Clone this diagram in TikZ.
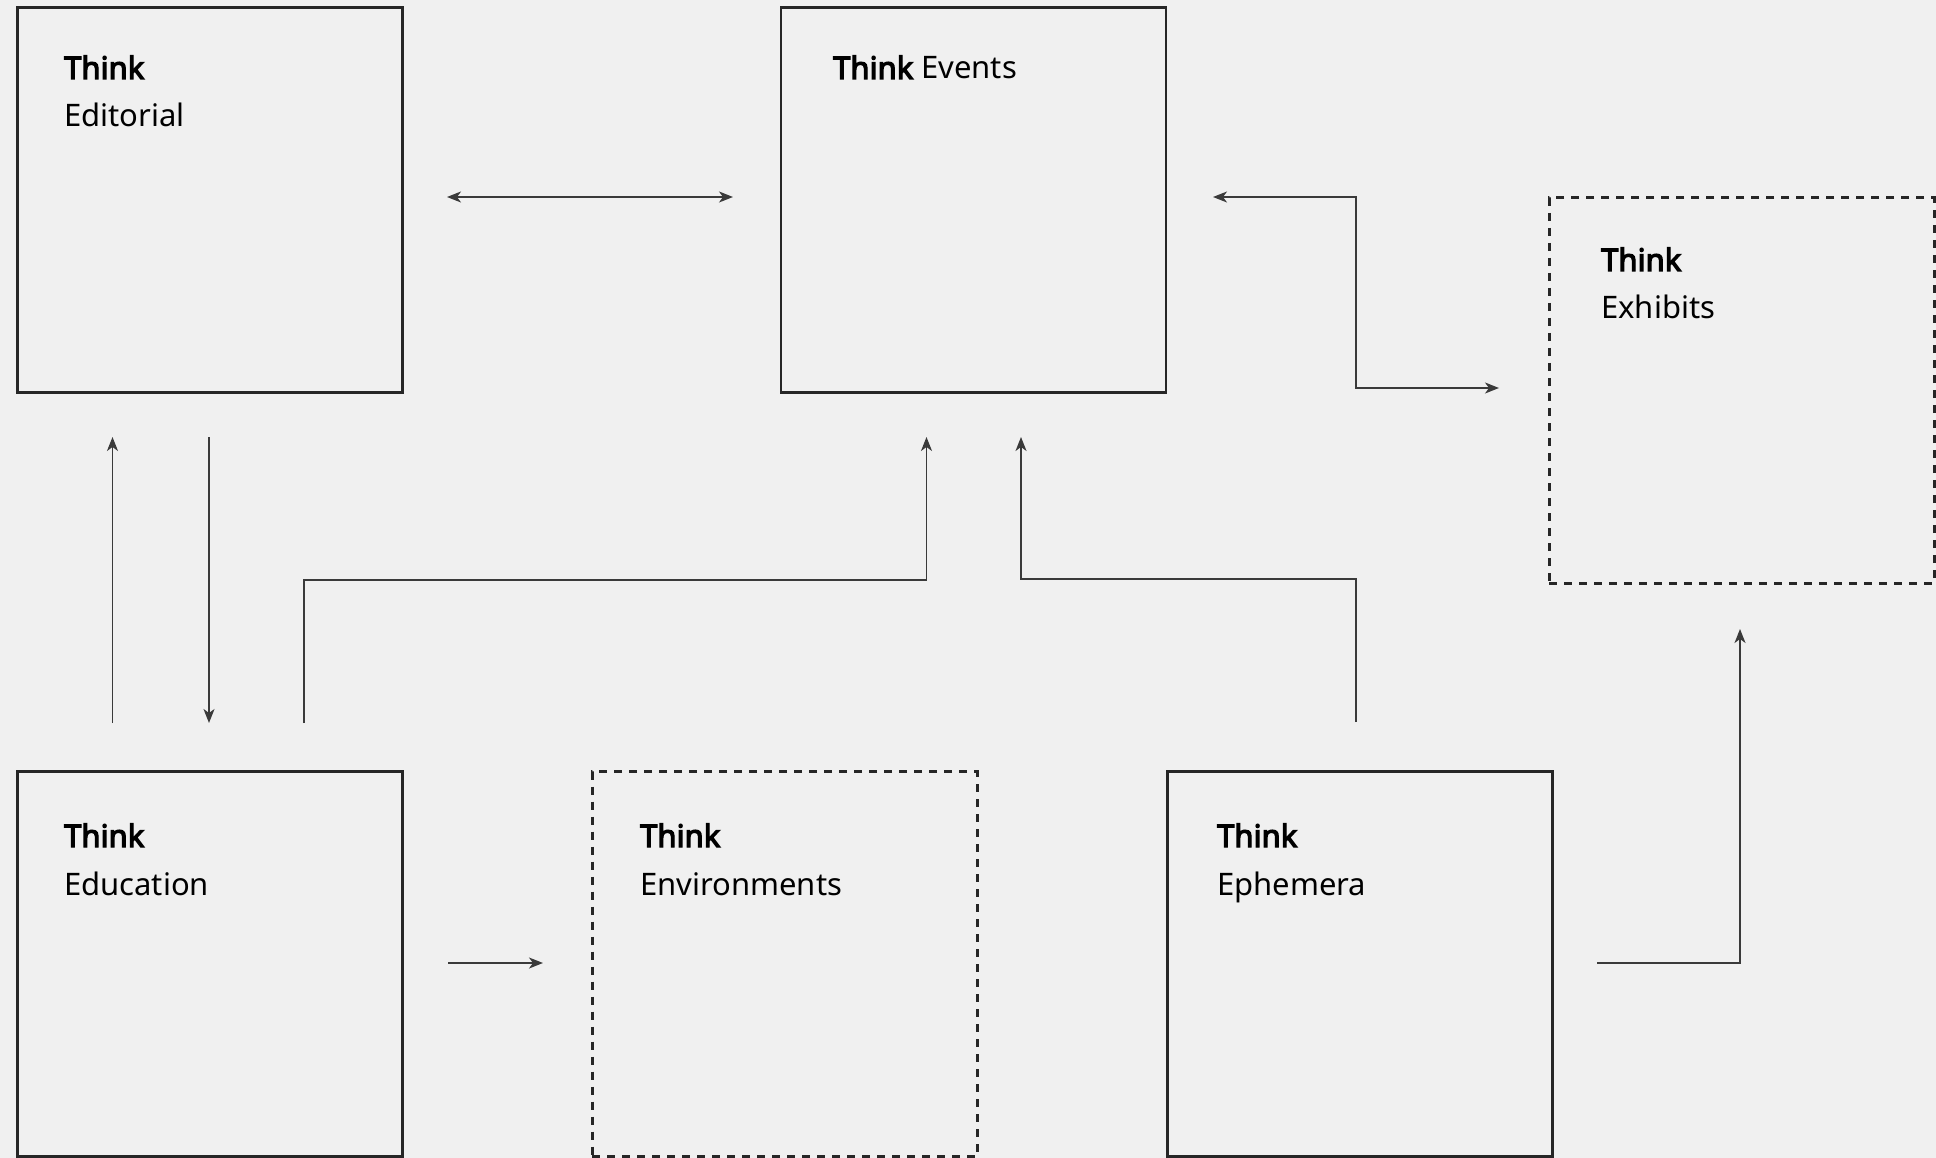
\documentclass[tikz,border=0pt]{standalone}
\usepackage{fontspec}
\setmainfont{Noto Sans}[BoldFont={Noto Sans},BoldFeatures={FakeBold=4}]
\usetikzlibrary{arrows.meta}
\definecolor{bg}{HTML}{F0F0F0}
\definecolor{ink}{HTML}{262626}
\definecolor{wire}{HTML}{3A3A3A}
\begin{document}
\begin{tikzpicture}[x=1pt,y=-1pt,
  >={Stealth[length=14pt,width=11pt,inset=4pt]},
  box/.style={draw=ink,line width=2.5pt,minimum width=385pt,minimum height=385pt,inner sep=0pt},
  dbox/.style={box,line width=3pt,dash pattern=on 8pt off 7pt},
  lbl/.style={anchor=base west,inner sep=0pt,font=\fontsize{31}{37}\selectfont,text=black},
  conn/.style={draw=wire,line width=1.5pt},
]
\fill[bg] (0,0) rectangle (1936,1158);
\useasboundingbox (0,0) rectangle (1936,1158);

% boxes
\node[box]  (ed)  at (210,200)    {};
\node[box]  (ev)  at (973.5,200)  {};
\node[dbox] (ex)  at (1741.5,390.5) {};
\node[box]  (edu) at (210,964)    {};
\node[dbox] (env) at (784.5,964)  {};
\node[box]  (eph) at (1360,964)   {};

% labels
\node[lbl] (edT)  at (64,79)   {\textbf{Think}};
\node[lbl] (edS)  at (64,127)  {Editorial};
\node[lbl] (evT)  at (833,79)  {\textbf{Think} Events};
\node[lbl] (exT)  at (1601,271) {\textbf{Think}};
\node[lbl] (exS)  at (1601,319) {Exhibits};
\node[lbl] (eduT) at (64,847)  {\textbf{Think}};
\node[lbl] (eduS) at (64,895)  {Education};
\node[lbl] (envT) at (640,847) {\textbf{Think}};
\node[lbl] (envS) at (640,895) {Environments};
\node[lbl] (ephT) at (1217,847) {\textbf{Think}};
\node[lbl] (ephS) at (1217,895) {Ephemera};

% connector end points
\coordinate (c1a) at (447,197);
\coordinate (c1b) at (733,197);
\coordinate (c2a) at (1213,197);
\coordinate (c2b) at (1499,388);
\coordinate (c3a) at (112.5,723);
\coordinate (c3b) at (112.5,437);
\coordinate (c4a) at (209,437);
\coordinate (c4b) at (209,723);
\coordinate (c5a) at (304,723);
\coordinate (c5b) at (926.5,437);
\coordinate (c6a) at (1356,722);
\coordinate (c6b) at (1021,437);
\coordinate (c7a) at (448,963);
\coordinate (c7b) at (543,963);
\coordinate (c8a) at (1597,963);
\coordinate (c8b) at (1740,629);

% connectors
\draw[conn,<->] (c1a) -- (c1b);
\draw[conn,<->] (c2a) -- (1356,197) -- (1356,388) -- (c2b);
\draw[conn,->] (c3a) -- (c3b);
\draw[conn,->] (c4a) -- (c4b);
\draw[conn,->] (c5a) -- (304,580) -- (926.5,580) -- (c5b);
\draw[conn,->] (c6a) -- (1356,579) -- (1021,579) -- (c6b);
\draw[conn,->] (c7a) -- (c7b);
\draw[conn,->] (c8a) -- (1740,963) -- (c8b);
\end{tikzpicture}
\end{document}
